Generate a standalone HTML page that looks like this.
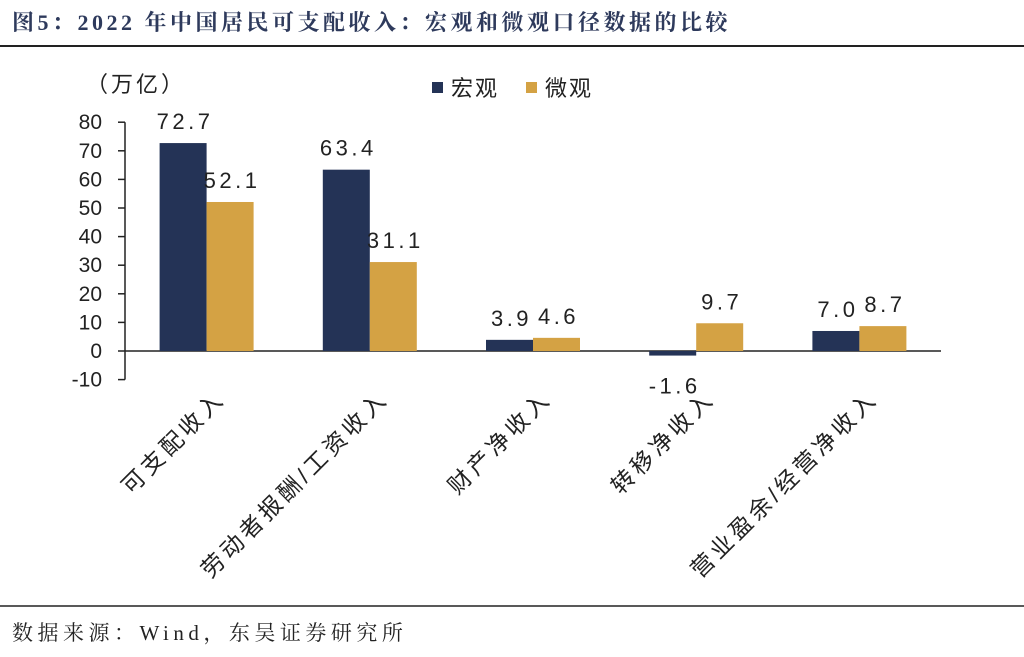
<!DOCTYPE html>
<html><head><meta charset="utf-8"><style>
body{margin:0;background:#fff;width:1024px;height:652px;overflow:hidden;font-family:"Liberation Sans","Noto Sans CJK SC",sans-serif}
</style></head><body>
<svg width="1024" height="652">
<text x="12" y="30" font-family="'Liberation Serif','Noto Serif CJK SC',serif" font-weight="bold" font-size="22" letter-spacing="3.5" fill="#2e3a5c">图5：2022 年中国居民可支配收入：宏观和微观口径数据的比较</text>
<line x1="0" y1="46" x2="1024" y2="46" stroke="#222" stroke-width="2"/>
<line x1="0" y1="606" x2="1024" y2="606" stroke="#222" stroke-width="1.5"/>
<text x="12" y="640" font-family="'Liberation Serif','Noto Serif CJK SC',serif" font-size="21" letter-spacing="4.5" fill="#222">数据来源：Wind，东吴证券研究所</text>
<text x="86" y="92" font-size="22" letter-spacing="3" fill="#222">（万亿）</text>
<rect x="432" y="82" width="11" height="11" fill="#243356"/>
<text x="451" y="96" font-size="22" letter-spacing="2" fill="#222">宏观</text>
<rect x="526" y="82" width="11" height="11" fill="#d4a244"/>
<text x="545" y="96" font-size="22" letter-spacing="2" fill="#222">微观</text>
<g id="plot"></g>
</svg>
<script>
const categories=["可支配收入","劳动者报酬/工资收入","财产净收入","转移净收入","营业盈余/经营净收入"];
const macroValues=[72.7,63.4,3.9,-1.6,7.0];
const microValues=[52.1,31.1,4.6,9.7,8.7];
const yTicks=[-10,0,10,20,30,40,50,60,70,80];
const NS="http://www.w3.org/2000/svg";
const g=document.getElementById("plot");
const x0=125,catW=163.2,barW=47;
const y=v=>351-v*2.86;
function mk(t,a,txt){const e=document.createElementNS(NS,t);for(const k in a)e.setAttribute(k,a[k]);if(txt!==undefined)e.textContent=txt;g.appendChild(e);return e;}
let ax=mk("line",{x1:x0,x2:x0,y1:y(80),y2:y(-10),stroke:"#222","stroke-width":1.5});


yTicks.forEach(t=>{
 const l=mk("line",{x1:x0-7,x2:x0,y1:y(t),y2:y(t),stroke:"#222","stroke-width":1.5});
 
 
 const tx=mk("text",{x:x0-23,y:y(t)+7,"text-anchor":"end","font-size":21,fill:"#222"},String(t));
 
 
});
let zl=mk("line",{x1:x0,x2:x0+catW*5,y1:y(0),y2:y(0),stroke:"#222","stroke-width":1.5});


categories.forEach((c,i)=>{
 const cx=x0+catW*(i+0.5);
 [[macroValues[i],"#243356",cx-barW,"macro"],[microValues[i],"#d4a244",cx,"micro"]].forEach(([v,col,bx,s])=>{
  const top=Math.min(y(v),y(0)),h=Math.abs(y(v)-y(0));
  const r=mk("rect",{x:bx,y:top,width:barW,height:h,fill:col});
  
  
  const ly=v>=0?y(v)-14:y(v)+38;
  const t=mk("text",{x:bx+barW/2+2,y:ly,"text-anchor":"middle","font-size":22,fill:"#222","letter-spacing":"3.5"},v.toFixed(1));
  
  
 });
 const lab=mk("text",{x:0,y:0,"text-anchor":"end","font-size":23,"letter-spacing":"4",fill:"#222",transform:`translate(${cx+20},${400}) rotate(-45)`},c);
 
 
});
</script>
</body></html>
